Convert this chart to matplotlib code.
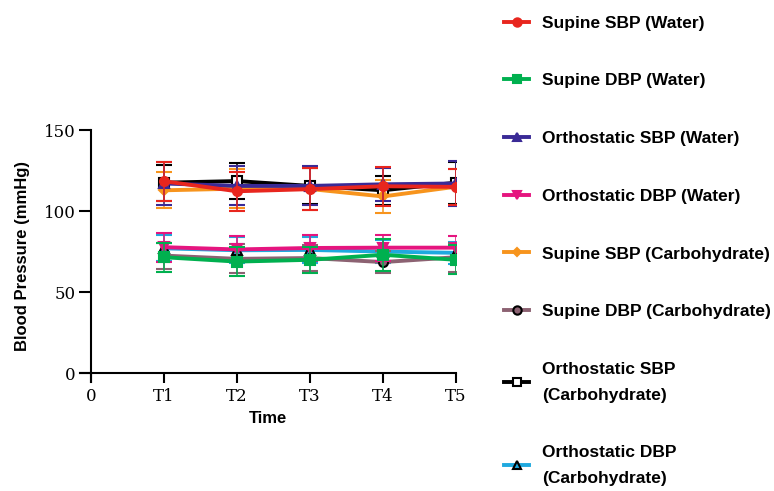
import numpy as np
import matplotlib
matplotlib.use('Agg')
from matplotlib import pyplot as plt
from matplotlib.lines import Line2D

x = [1, 2, 3, 4, 5]
xticklabels = ['0', 'T1', 'T2', 'T3', 'T4', 'T5']

labels = ['Supine SBP (Water)', 'Supine DBP (Water)', 'Orthostatic SBP (Water)',
          'Orthostatic DBP (Water)', 'Supine SBP (Carbohydrate)', 'Supine DBP (Carbohydrate)',
          'Orthostatic SBP\n(Carbohydrate)', 'Orthostatic DBP\n(Carbohydrate)']

sup_sbp_w = [118.4, 112.2, 113.5, 115.3, 114.9]
sup_sbp_w_sd = [12, 12, 13, 12, 11]
sup_dbp_w = [71.5, 68.8, 69.9, 73.0, 69.9]
sup_dbp_w_sd = [9, 9, 8, 10, 9]
ort_sbp_w = [117.0, 115.5, 115.5, 116.5, 117.0]
ort_sbp_w_sd = [13, 12, 12, 10, 14]
ort_dbp_w = [77.7, 76.3, 77.2, 77.4, 77.4]
ort_dbp_w_sd = [9, 8, 8, 8, 7]
sup_sbp_c = [112.8, 113.8, 113.6, 109.0, 115.0]
sup_sbp_c_sd = [11, 12, 13, 10, 11]
sup_dbp_c = [72.5, 70.5, 71.0, 68.5, 71.5]
sup_dbp_c_sd = [8, 9, 8, 7, 9]
ort_sbp_c = [117.5, 118.5, 115.5, 112.8, 117.5]
ort_sbp_c_sd = [11, 11, 11, 9, 13]
ort_dbp_c = [77.0, 75.8, 76.0, 75.0, 74.2]
ort_dbp_c_sd = [8, 8, 8, 7, 7]

plt.rcParams['font.family'] = ['Liberation Sans', 'DejaVu Sans']

fig = plt.figure(figsize=(7.74, 4.91), dpi=100)
ax = fig.add_axes([0.1034, 0.2220, 0.4856, 0.5132])

series = [
    # values, sd, color, marker, mfc, mec, zorder
    (sup_sbp_w, sup_sbp_w_sd, '#e8261e', 'o', '#e8261e', '#e8261e', 10),
    (sup_dbp_w, sup_dbp_w_sd, '#00b04f', 's', '#00b04f', '#00b04f', 9),
    (ort_sbp_w, ort_sbp_w_sd, '#3a2a96', '^', '#3a2a96', '#3a2a96', 7),
    (ort_dbp_w, ort_dbp_w_sd, '#e5157f', 'v', '#e5157f', '#e5157f', 8),
    (sup_sbp_c, sup_sbp_c_sd, '#f7941d', 'D', '#f7941d', '#f7941d', 5),
    (sup_dbp_c, sup_dbp_c_sd, '#8c6272', 'o', '#8c6272', 'black', 4),
    (ort_sbp_c, ort_sbp_c_sd, 'black', 's', 'white', 'black', 3),
    (ort_dbp_c, ort_dbp_c_sd, '#1fa9df', '^', '#1fa9df', 'black', 2),
]

handles = []
for (vals, sd, col, mk, mfc, mec, z), lab in zip(series, labels):
    ms = 5 if mk == 'D' else 6.5
    ax.errorbar(x, vals, yerr=sd, color=col, lw=2.8, marker=mk, ms=ms,
                mfc=mfc, mec=mec, mew=1.5, ecolor=col, elinewidth=1.1, capsize=6,
                capthick=1.1, zorder=z)
    handles.append(Line2D([], [], color=col, lw=2.8, marker=mk, ms=ms - 0.5,
                          mfc=mfc, mec=mec, mew=1.5))

ax.set_xlim(-0.15, 5)
ax.set_ylim(-5.5, 150)
ax.spines['left'].set_position(('data', 0))
ax.spines['bottom'].set_position(('data', 0))
ax.spines['right'].set_visible(False)
ax.spines['top'].set_visible(False)
for s in ['left', 'bottom']:
    ax.spines[s].set_linewidth(1.5)
ax.set_xticks(range(0, 6))
ax.set_xticklabels(xticklabels, family=['DejaVu Serif'], fontsize=12)
ax.set_yticks([0, 50, 100, 150])
ax.set_yticklabels(['0', '50', '100', '150'], family=['DejaVu Serif'], fontsize=12)
ax.tick_params(axis='x', direction='out', length=7, width=1.5, pad=4)
ax.tick_params(axis='y', direction='out', length=9, width=1.5, pad=2)
ax.set_xlabel('Time', fontsize=12, fontweight='bold', labelpad=4)
ax.set_ylabel('Blood Pressure (mmHg)', fontsize=12, fontweight='bold', labelpad=10)

leg = fig.legend(handles=handles, labels=labels, loc='upper left', bbox_to_anchor=(0.631, 1.0),
                 frameon=False, prop={'weight': 'bold', 'size': 12.5}, labelspacing=2.45,
                 handlelength=1.45, handletextpad=0.75)
for t in leg.get_texts():
    t.set_linespacing(1.9)

plt.savefig('out.png', dpi=100)
